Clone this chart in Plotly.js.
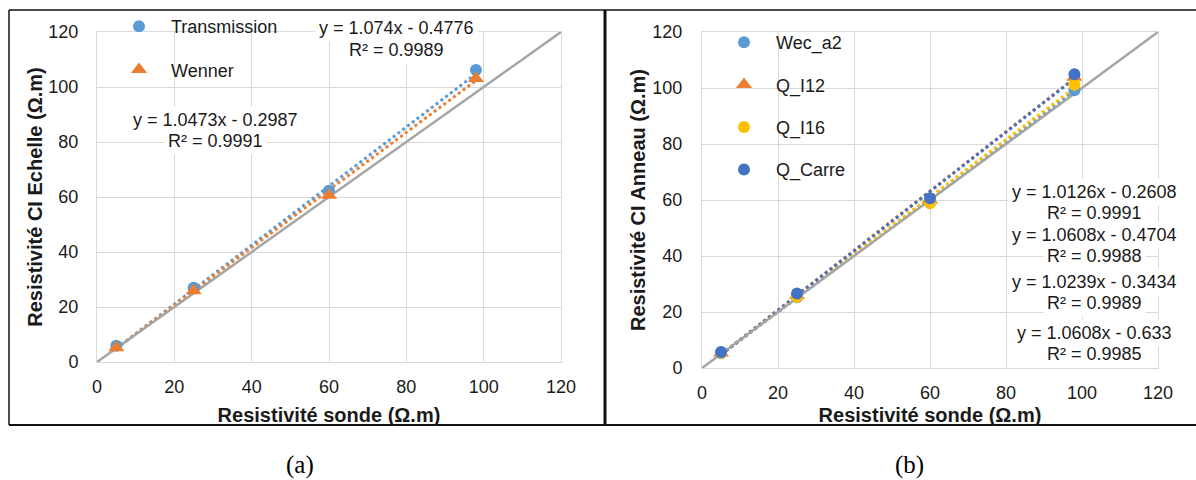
<!DOCTYPE html>
<html><head><meta charset="utf-8">
<script src="https://cdn.plot.ly/plotly-3.0.1.min.js"></script>
<style>html,body{margin:0;padding:0;background:#fff}#chart{width:1196px;height:480px}</style>
</head><body><div id="chart"></div>
<script>
// ---- data ----
const xSonde = [5, 25, 60, 98];
const transmission = [5.9, 27.0, 62.3, 106.2];
const wenner = [5.2, 25.9, 60.6, 103.1];
const wecA2 = [5.3, 25.3, 59.0, 99.2];
const qI12 = [5.4, 26.0, 60.0, 103.8];
const qI16 = [5.4, 25.4, 58.8, 101.2];
const qCarre = [5.7, 26.6, 60.6, 104.9];
const namesA = ['Transmission', 'Wenner'];
const namesB = ['Wec_a2', 'Q_I12', 'Q_I16', 'Q_Carre'];
const slopesA = [1.074, 1.0473];
const interceptsA = [-0.4776, -0.2987];
const r2A = [0.9989, 0.9991];
const slopesB = [1.0126, 1.0608, 1.0239, 1.0608];
const interceptsB = [-0.2608, -0.4704, -0.3434, -0.633];
const r2B = [0.9991, 0.9988, 0.9989, 0.9985];
const identityLine = [0, 120];
const axisTicks = [0, 20, 40, 60, 80, 100, 120];
const xTitle = 'Resistivité sonde (Ω.m)';
const yTitleA = 'Resistivité CI Echelle (Ω.m)';
const yTitleB = 'Resistivité CI Anneau (Ω.m)';
const panelLabels = ['(a)', '(b)'];

// ---- styling ----
const W = 1196, H = 480;
const px = v => v / W;
const py = v => 1 - v / H;
const FONT = 'Liberation Sans, Arial, sans-serif';
const TXT = '#1a1a1a';
const colorsA = ['#5B9BD5', '#ED7D31'];
const symbolsA = ['circle', 'triangle-up'];
const sizesA = [12, 14];
const colorsB = ['#5B9BD5', '#ED7D31', '#FFC000', '#4472C4'];
const symbolsB = ['circle', 'triangle-up', 'circle', 'circle'];
const sizesB = [12, 14, 12, 12];
const seriesA = [transmission, wenner];
const seriesB = [wecA2, qI12, qI16, qCarre];

const xMin = Math.min(...xSonde), xMax = Math.max(...xSonde);
const traces = [];
function addPanel(series, names, colors, symbols, sizes, slopes, intercepts, xa, ya, leg) {
  series.forEach((s, i) => {
    traces.push({x: [xMin, xMax], y: [slopes[i] * xMin + intercepts[i], slopes[i] * xMax + intercepts[i]],
      mode: 'lines', line: {color: colors[i], width: 3, dash: 'dot'}, showlegend: false,
      xaxis: xa, yaxis: ya, hoverinfo: 'skip'});
  });
  traces.push({x: identityLine, y: identityLine, mode: 'lines', line: {color: '#A5A5A5', width: 2.5},
    showlegend: false, xaxis: xa, yaxis: ya, hoverinfo: 'skip'});
  series.forEach((s, i) => {
    traces.push({x: xSonde, y: s, name: names[i], mode: 'markers', legendgroup: leg + i, legend: leg,
      marker: {color: colors[i], size: sizes[i], symbol: symbols[i]}, xaxis: xa, yaxis: ya});
  });
}
addPanel(seriesA, namesA, colorsA, symbolsA, sizesA, slopesA, interceptsA, 'x', 'y', 'legend');
addPanel(seriesB, namesB, colorsB, symbolsB, sizesB, slopesB, interceptsB, 'x2', 'y2', 'legend2');

function axis(extra) {
  return Object.assign({range: [0, 120], tickvals: axisTicks, showgrid: true, gridcolor: '#d9d9d9', gridwidth: 1,
    showline: true, linecolor: '#d9d9d9', linewidth: 1, mirror: true, zeroline: false, ticks: '',
    tickfont: {family: FONT, size: 18, color: TXT}, fixedrange: true}, extra);
}
const titleFont = {family: FONT, size: 20, color: TXT, weight: 'bold'};

const eqFont = {family: FONT, size: 18, color: TXT};
const annotations = [];
function eqLine(text, cx, cy) {
  annotations.push({text: text, x: px(cx), y: py(cy), xref: 'paper', yref: 'paper', showarrow: false,
    xanchor: 'center', yanchor: 'middle', font: eqFont, bgcolor: '#ffffff', borderpad: 3});
}
const eqText = (m, b) => 'y = ' + m + 'x ' + (b < 0 ? '- ' : '+ ') + Math.abs(b);
const r2Text = r => 'R² = ' + r;
// left panel equations
eqLine(eqText(slopesA[0], interceptsA[0]), 396, 28);
eqLine(r2Text(r2A[0]), 396, 50);
eqLine(eqText(slopesA[1], interceptsA[1]), 215, 120);
eqLine(r2Text(r2A[1]), 215, 141);
// right panel equations
const eqYB = [192, 235, 282, 333];
slopesB.forEach((m, i) => {
  eqLine(eqText(m, interceptsB[i]), 1094, eqYB[i]);
  eqLine(r2Text(r2B[i]), 1094, eqYB[i] + 21);
});
// panel labels
[300, 909].forEach((cx, i) => {
  annotations.push({text: panelLabels[i], x: px(cx), y: py(465), xref: 'paper', yref: 'paper', showarrow: false,
    xanchor: 'center', yanchor: 'middle', font: {family: 'Liberation Serif, Times New Roman, serif', size: 25, color: '#000'}});
});

const ln = (x0, y0, x1, y1, w) => ({type: 'line', xref: 'paper', yref: 'paper',
  x0: px(x0), y0: py(y0), x1: px(x1), y1: py(y1), line: {color: '#111', width: w}});
const box = (x0, y0, x1, y1) => ({type: 'rect', xref: 'paper', yref: 'paper', layer: 'between',
  x0: px(x0), y0: py(y0), x1: px(x1), y1: py(y1), fillcolor: '#ffffff', line: {width: 0}});
const shapes = [box(103, 12, 303, 100), box(703, 33, 865, 198),
  ln(9, 10, 1196, 10, 1.5), ln(9, 10, 9, 425, 1.5), ln(9, 425, 1196, 425, 2), ln(605, 10, 605, 425, 3)];

const layout = {
  width: W, height: H, margin: {l: 0, r: 0, t: 0, b: 0}, paper_bgcolor: '#fff', plot_bgcolor: '#fff',
  font: {family: FONT, color: TXT},
  xaxis: axis({domain: [px(97), px(561)], anchor: 'y', ticklabelstandoff: 8,
    title: {text: xTitle, font: titleFont, standoff: 12}}),
  yaxis: axis({domain: [py(362), py(32)], anchor: 'x', ticklabelstandoff: 14,
    title: {text: yTitleA, font: titleFont, standoff: 0}}),
  xaxis2: axis({domain: [px(702), px(1158)], anchor: 'y2', ticklabelstandoff: 8,
    title: {text: xTitle, font: titleFont, standoff: 6}}),
  yaxis2: axis({domain: [py(368), py(32)], anchor: 'x2', ticklabelstandoff: 15,
    title: {text: yTitleB, font: titleFont, standoff: 1}}),
  legend: {x: px(107), y: py(8), xanchor: 'left', yanchor: 'top', bgcolor: 'rgba(0,0,0,0)', borderwidth: 0,
    font: {family: FONT, size: 18, color: TXT}, itemwidth: 54, tracegroupgap: 17},
  legend2: {x: px(712), y: py(24), xanchor: 'left', yanchor: 'top', bgcolor: 'rgba(0,0,0,0)', borderwidth: 0,
    font: {family: FONT, size: 18, color: TXT}, itemwidth: 54, tracegroupgap: 16},
  annotations: annotations, shapes: shapes, showlegend: true
};
Plotly.newPlot('chart', traces, layout, {displayModeBar: false, staticPlot: true});
</script></body></html>
